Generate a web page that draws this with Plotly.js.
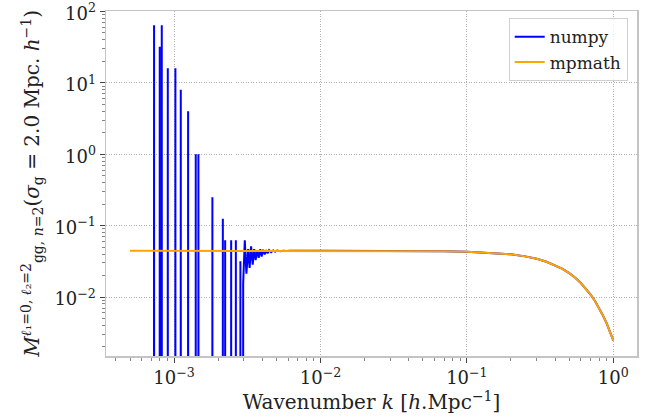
<!DOCTYPE html>
<html>
<head>
<meta charset="utf-8">
<script src="https://cdn.plot.ly/plotly-3.0.1.min.js"></script>
<style>html,body{margin:0;padding:0;background:#fff;}#plot{width:656px;height:417px;}</style>
</head>
<body>
<div id="plot"></div>
<script>
// mpmath result: smooth curve
const mpmathK = [0.0005, 0.001, 0.002, 0.005, 0.01, 0.02, 0.03, 0.05, 0.07, 0.1, 0.15, 0.2, 0.25, 0.3, 0.35, 0.4, 0.45, 0.5, 0.55, 0.6, 0.65, 0.7, 0.75, 0.8, 0.85, 0.9, 0.95, 1.0];
const mpmathM = [0.0444, 0.0444, 0.0444, 0.0444, 0.0444, 0.0444, 0.0443, 0.0441, 0.0438, 0.0431, 0.0416, 0.0396, 0.0371, 0.0343, 0.0312, 0.0280, 0.0248, 0.0216, 0.0186, 0.0157, 0.0131, 0.0108, 0.0088, 0.0070, 0.0055, 0.0043, 0.0033, 0.00248];

// numpy result: cancellation spikes (negative values fall below the log axis)
const numpyK = [6.9e-4, 7.30e-4, 7.65e-4, 7.98e-4, 8.11e-4, 8.24e-4, 8.65e-4, 9.06e-4, 9.6e-4, 1.021e-3, 1.065e-3, 1.111e-3, 1.18e-3, 1.247e-3, 1.33e-3, 1.406e-3, 1.436e-3, 1.466e-3, 1.65e-3, 1.827e-3, 2.0e-3, 2.153e-3, 2.19e-3, 2.233e-3, 2.35e-3, 2.454e-3, 2.55e-3, 2.642e-3,
  2.735e-3, 2.838e-3, 2.897e-3, 2.965e-3, 3.041e-3, 3.119e-3, 3.206e-3, 3.281e-3, 3.357e-3, 3.443e-3, 3.524e-3, 3.606e-3, 3.69e-3, 3.784e-3, 3.873e-3, 3.963e-3, 4.055e-3, 4.159e-3, 4.256e-3, 4.355e-3, 4.457e-3, 4.603e-3, 4.753e-3, 4.898e-3, 5.058e-3, 5.309e-3, 5.559e-3, 5.834e-3, 6.209e-3,
  0.01, 0.02, 0.03, 0.05, 0.07, 0.1, 0.15, 0.2, 0.25, 0.3, 0.35, 0.4, 0.45, 0.5, 0.55, 0.6, 0.65, 0.7, 0.75, 0.8, 0.85, 0.9, 0.95, 1.0];
const numpyM = [-32, 64, -64, 32, -32, 64, -16, 16, -16, 16, -8, 8, -4, 4, -1, 1, -1, 1, -0.25, 0.25, -0.125, 0.125, -0.0625, 0.0625, -0.0625, 0.0625, -0.0625, 0.0625,
  -0.03, 0.0316, -0.03, 0.0154, 0.0625, 0.0213, 0.047, 0.0255, 0.0513, 0.0284, 0.047, 0.033, 0.045, 0.0355, 0.0466, 0.037, 0.046, 0.0395, 0.0455, 0.041, 0.0452, 0.0425, 0.0450, 0.0432, 0.0447, 0.0437, 0.0446, 0.0441, 0.0444,
  0.0444, 0.0444, 0.0443, 0.0441, 0.0438, 0.0431, 0.0416, 0.0396, 0.0371, 0.0343, 0.0312, 0.0280, 0.0248, 0.0216, 0.0186, 0.0157, 0.0131, 0.0108, 0.0088, 0.0070, 0.0055, 0.0043, 0.0033, 0.00248];

const seriesNames = ['numpy', 'mpmath'];
const xTickVals = [1e-3, 1e-2, 1e-1, 1];
const xTickText = ['10<sup>−3</sup>', '10<sup>−2</sup>', '10<sup>−1</sup>', '10<sup>0</sup>'];
const yTickVals = [1e-2, 1e-1, 1, 10, 100];
const yTickText = ['10<sup>−2</sup>', '10<sup>−1</sup>', '10<sup>0</sup>', '10<sup>1</sup>', '10<sup>2</sup>'];
const xTitle = 'Wavenumber <i>k</i> [<i>h</i>.Mpc<sup>−1</sup>]';
const yTitle = '<i>M</i><sup><i>ℓ</i>₁=0, <i>ℓ</i>₂=2</sup><sub>gg, <i>n</i>=2</sub>(<i>σ</i><sub>g</sub> = 2.0 Mpc. <i>h</i><sup>−1</sup>)';

// like matplotlib's log clipping: non-positive values are sent far below the axis
const clipLog = v => (v > 0 ? v : 1e-300);

const serif = '"DejaVu Serif", serif';
const traces = [
  {x: numpyK, y: numpyM.map(clipLog), type: 'scatter', mode: 'lines', name: seriesNames[0],
   line: {color: '#0000ff', width: 2}},
  {x: mpmathK, y: mpmathM, type: 'scatter', mode: 'lines', name: seriesNames[1],
   line: {color: '#ffa500', width: 2}}
];

const axisCommon = {
  type: 'log', showline: true, mirror: true, linecolor: '#c4c4c4', linewidth: 1.5,
  showgrid: true, gridcolor: '#b0b0b0', griddash: '1px,1.5px', gridwidth: 1,
  ticks: 'outside', ticklen: 5, tickwidth: 1, tickcolor: '#444',
  zeroline: false, ticklabeloverflow: 'allow',
  tickfont: {family: serif, size: 18, color: '#222'},
  minor: {ticks: 'outside', ticklen: 3, tickwidth: 0.8, tickcolor: '#666', showgrid: false, dtick: 'D1'}
};

const layout = {
  width: 656, height: 417,
  margin: {l: 106, r: 19, t: 11, b: 61},
  paper_bgcolor: '#fff', plot_bgcolor: '#fff',
  showlegend: true,
  legend: {x: 0.9825, xanchor: 'right', y: 0.979, yanchor: 'top',
    bgcolor: 'rgba(255,255,255,0.8)', bordercolor: '#d0d0d0', borderwidth: 1,
    font: {family: serif, size: 17, color: '#222'}},
  xaxis: Object.assign({}, axisCommon, {
    range: [-3.465, 0.162], tickvals: xTickVals, ticktext: xTickText,
    title: {text: xTitle, font: {family: serif, size: 20, color: '#222'}, standoff: 1}
  }),
  yaxis: Object.assign({}, axisCommon, {
    range: [-2.826, 2.006], tickvals: yTickVals, ticktext: yTickText, ticklabelshift: 2
  }),
  annotations: [{
    text: yTitle, textangle: -90, showarrow: false,
    xref: 'paper', yref: 'paper', x: -0.139, y: 0.5, xanchor: 'center', yanchor: 'middle',
    font: {family: serif, size: 20, color: '#222'}
  }]
};

Plotly.newPlot('plot', traces, layout, {displayModeBar: false, staticPlot: true});
</script>
</body>
</html>
